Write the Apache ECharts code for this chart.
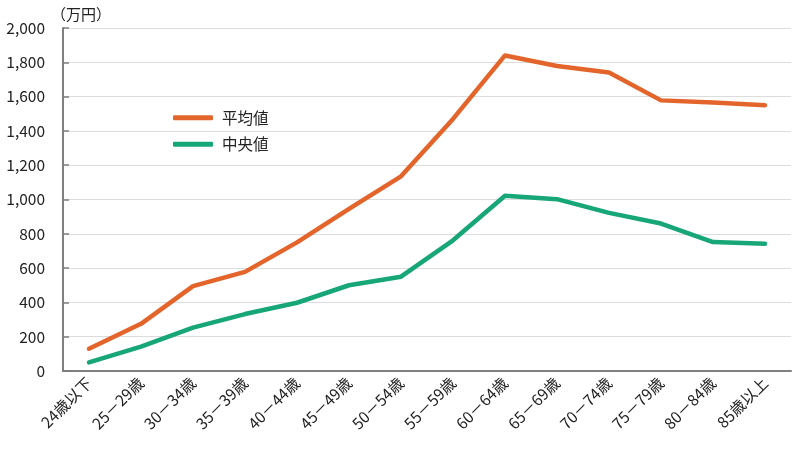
<!DOCTYPE html>
<html><head><meta charset="utf-8">
<script src="https://cdn.jsdelivr.net/npm/echarts@6/dist/echarts.min.js"></script>
<style>html,body{margin:0;padding:0;background:#fff}#c{width:800px;height:451px}</style>
</head><body><div id="c"></div>
<script>
const categories = ['24歳以下','25－29歳','30－34歳','35－39歳','40－44歳','45－49歳','50－54歳','55－59歳','60－64歳','65－69歳','70－74歳','75－79歳','80－84歳','85歳以上'];
const meanValues = [130, 275, 495, 578, 750, 945, 1135, 1470, 1840, 1778, 1740, 1578, 1565, 1550];
const medianValues = [50, 142, 253, 332, 398, 500, 550, 762, 1022, 1002, 922, 860, 752, 742];
const yTicks = [0, 200, 400, 600, 800, 1000, 1200, 1400, 1600, 1800, 2000];
const FONT = '"Noto Sans CJK JP", "Noto Sans", sans-serif';
const chart = echarts.init(document.getElementById('c'), null, {renderer:'canvas'});
chart.setOption({
  animation:false,
  textStyle:{fontFamily:FONT},
  title:{text:'（万円）', left:46, top:2, textStyle:{fontSize:15, fontWeight:'normal', color:'#222', fontFamily:FONT}},
  legend:{
    orient:'vertical', left:168, top:105, itemWidth:40, itemHeight:5, itemGap:11,
    icon:'roundRect',
    textStyle:{fontSize:15.5, color:'#222', fontFamily:FONT, padding:[0,0,0,4]},
    data:['平均値','中央値']
  },
  grid:{left:63, right:9, top:28, bottom:80, containLabel:false},
  xAxis:{
    type:'category', data:categories, boundaryGap:true,
    axisLine:{lineStyle:{color:'#7f7f7f', width:2}},
    axisTick:{inside:true, length:6, lineStyle:{color:'#7f7f7f', width:1.5}},
    axisLabel:{rotate:45, fontSize:15.5, color:'#222', margin:9, fontFamily:FONT, interval:0}
  },
  yAxis:{
    type:'value', min:yTicks[0], max:yTicks[yTicks.length-1], interval:200,
    axisLine:{show:true, lineStyle:{color:'#7f7f7f', width:2}},
    axisTick:{show:true, inside:true, length:6, lineStyle:{color:'#7f7f7f', width:1.5}},
    axisLabel:{fontSize:15.5, color:'#222', margin:18, fontFamily:FONT,
      formatter:v=>v.toLocaleString('en-US')},
    splitLine:{lineStyle:{color:'#dcdcdc', width:1.2}}
  },
  series:[
    {name:'平均値', type:'line', data:meanValues, symbol:'none', color:'#e4652b',
     lineStyle:{width:4.5, color:'#e4652b', cap:'round', join:'round'}},
    {name:'中央値', type:'line', data:medianValues, symbol:'none', color:'#17a677',
     lineStyle:{width:4.5, color:'#17a677', cap:'round', join:'round'}}
  ]
});
</script></body></html>
